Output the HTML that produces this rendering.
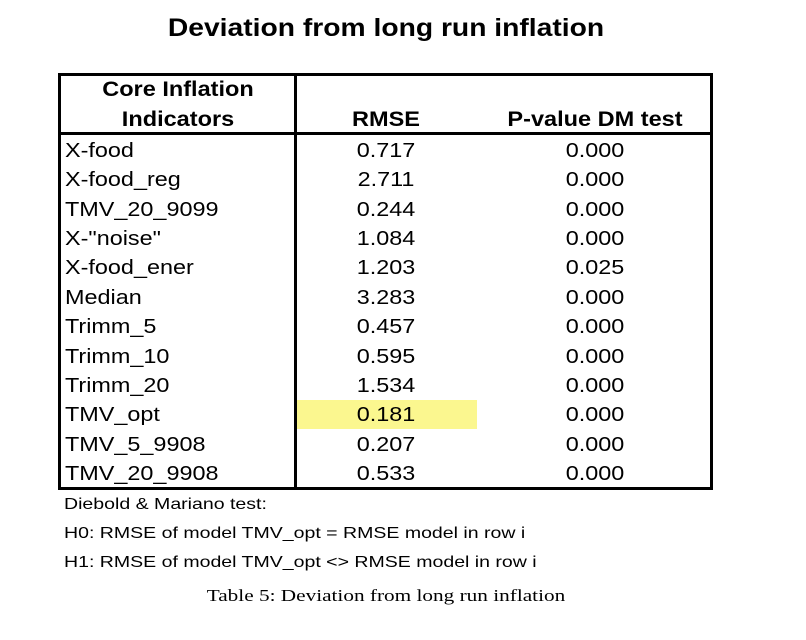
<!DOCTYPE html>
<html><head><style>
body{margin:0;width:806px;height:640px;background:#fff;position:relative;font-family:"Liberation Sans",Arial,sans-serif;color:#000;overflow:hidden}
.a{position:absolute;white-space:nowrap}
.c{transform:translateX(-50%)}
.r{font-size:20px;line-height:20px}
.rl{transform-origin:0 0;transform:scaleX(1.17)}
.rc{transform:translateX(-50%) scaleX(1.17)}
.h{font-size:21px;font-weight:bold;line-height:21px;transform:translateX(-50%) scaleX(1.12)}
.n{font-size:16px;line-height:16px;left:64px;transform-origin:0 0;transform:scaleX(1.22)}
</style></head><body>
<div class="a" style="left:386px;top:14px;font-size:25px;font-weight:bold;line-height:28px;transform:translateX(-50%) scaleX(1.13)">Deviation from long run inflation</div>
<div class="a" style="left:297px;top:400px;width:180px;height:29px;background:#fbf78f"></div>
<div class="a" style="left:58px;top:73px;width:649px;height:411px;border:3px solid #000"></div>
<div class="a" style="left:58px;top:132px;width:652px;height:3px;background:#000"></div>
<div class="a" style="left:294px;top:73px;width:3px;height:416px;background:#000"></div>
<div class="a h" style="left:178px;top:79px">Core Inflation</div>
<div class="a h" style="left:178px;top:109px">Indicators</div>
<div class="a h" style="left:386px;top:109px">RMSE</div>
<div class="a h" style="left:595px;top:109px">P-value DM test</div>
<div id="rows"></div>
<script>
var d=[["X-food","0.717","0.000"],["X-food_reg","2.711","0.000"],["TMV_20_9099","0.244","0.000"],["X-\"noise\"","1.084","0.000"],["X-food_ener","1.203","0.025"],["Median","3.283","0.000"],["Trimm_5","0.457","0.000"],["Trimm_10","0.595","0.000"],["Trimm_20","1.534","0.000"],["TMV_opt","0.181","0.000"],["TMV_5_9908","0.207","0.000"],["TMV_20_9908","0.533","0.000"]];
var h="";d.forEach(function(r,i){var t=141+i*29.36;
h+='<div class="a r rl" style="left:65px;top:'+t+'px">'+r[0].replace(/"/g,'&quot;')+'</div>';
h+='<div class="a r rc" style="left:386px;top:'+t+'px">'+r[1]+'</div>';
h+='<div class="a r rc" style="left:595px;top:'+t+'px">'+r[2]+'</div>';});
document.getElementById("rows").innerHTML=h;
</script>
<div class="a n" style="top:497px">Diebold &amp; Mariano test:</div>
<div class="a n" style="top:526px">H0: RMSE of model TMV_opt = RMSE model in row i</div>
<div class="a n" style="top:555px">H1: RMSE of model TMV_opt &lt;&gt; RMSE model in row i</div>
<div class="a" style="left:386px;top:587px;font-family:'Liberation Serif',serif;font-size:17px;line-height:17px;transform:translateX(-50%) scaleX(1.25)">Table 5: Deviation from long run inflation</div>
</body></html>
